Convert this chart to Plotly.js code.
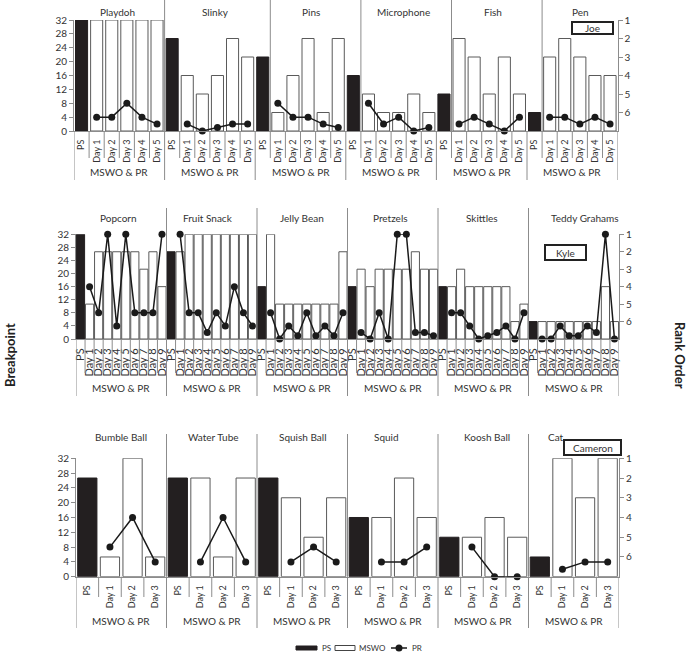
<!DOCTYPE html>
<html><head><meta charset="utf-8">
<script src="https://cdn.plot.ly/plotly-3.0.1.min.js"></script>
<style>html,body{margin:0;padding:0;background:#fff}#chart{width:693px;height:658px}</style>
</head><body><div id="chart"></div>
<script>
// ---------------- DATA ----------------
const groupLabel = "MSWO & PR";
const psLabel = "PS";
const days5 = ["Day 1","Day 2","Day 3","Day 4","Day 5"];
const days9 = ["Day 1","Day 2","Day 3","Day 4","Day 5","Day 6","Day 7","Day 8","Day 9"];
const days3 = ["Day 1","Day 2","Day 3"];
const seriesNames = ["PS","MSWO","PR"];

// Joe
const joeItems = ["Playdoh","Slinky","Pins","Microphone","Fish","Pen"];
const joePS   = [1,2,3,4,5,6];                       // rank (right axis)
const joeMSWO = [[1,1,1,1,1],[4,5,4,2,3],[6,4,2,6,2],[5,6,6,5,6],[2,3,5,3,5],[3,2,3,4,4]]; // rank
const joePR   = [[4,4,8,4,2],[2,0,1,2,2],[8,4,4,2,1],[8,2,4,0,1],[2,4,2,0,4],[4,4,2,4,2]]; // breakpoint

// Kyle
const kyleItems = ["Popcorn","Fruit Snack","Jelly Bean","Pretzels","Skittles","Teddy Grahams"];
const kylePS   = [1,2,4,4,4,6];
const kyleMSWO = [[5,2,2,2,2,2,3,2,4],[2,1,1,1,1,1,1,1,1],[1,5,5,5,5,5,5,5,2],
                  [3,4,3,3,3,3,2,3,3],[4,3,4,4,4,4,4,6,5],[6,6,6,6,6,6,6,4,6]];
const kylePR   = [[16,8,32,4,32,8,8,8,32],[32,8,8,2,8,4,16,8,4],[8,0,4,1,8,1,4,1,8],
                  [2,0,8,0,32,32,2,2,1],[8,8,4,0,1,2,4,0,8],[0,0,4,1,1,4,2,32,0]];

// Cameron
const camItems = ["Bumble Ball","Water Tube","Squish Ball","Squid","Koosh Ball","Cat"];
const camPS   = [2,2,2,4,5,6];
const camMSWO = [[6,1,6],[2,6,2],[3,5,3],[4,2,4],[5,4,5],[1,3,1]];
const camPR   = [[8,16,4],[4,16,4],[4,8,4],[4,4,8],[8,0,0],[2,4,4]];

const leftTicks = [0,4,8,12,16,20,24,28,32];
const rightTicks = [1,2,3,4,5,6];
const RANK_FLOOR = 7;

// ---------------- LAYOUT HELPERS ----------------
const W=693, H=658, L=72, R=74, PW=W-L-R;
const px2x = p => (p-L)/PW;
const py2y = p => 1 - p/H;
const FONT = "Lato, 'Open Sans', sans-serif";
const LINE = '#8c8c8c';
const TXT = '#333333';

const rowCfg = [
  {name:'Joe', items:joeItems, ps:joePS, mswo:joeMSWO, pr:joePR, days:days5,
   x0:74, x1:617.6, yTop:20, yBot:131, titleY:12, sepTop:0, innerBot:158, groupBot:180, groupY:172,
   tickFont:9, barW:0.8, sepB:[6,13,19,25,31], titleX:[117,215,311,403,493,580],
   box:{x0:572,x1:613,y0:22,y1:34}},
  {name:'Kyle', items:kyleItems, ps:kylePS, mswo:kyleMSWO, pr:kylePR, days:days9,
   x0:76, x1:619, yTop:234.3, yBot:339, titleY:218, sepTop:208, innerBot:373, groupBot:396, groupY:388,
   tickFont:11, barW:0.9, sepB:[10,20,30,40,50], titleX:[118,208,302,390,482,585],
   box:{x0:545,x1:586,y0:245,y1:260}},
  {name:'Cameron', items:camItems, ps:camPS, mswo:camMSWO, pr:camPR, days:days3,
   x0:76, x1:619, yTop:458.3, yBot:576.7, titleY:437, sepTop:434, innerBot:597, groupBot:628, groupY:621,
   tickFont:9, barW:0.85, sepB:[4,8,12,16,20], titleX:[121,213,303,386,487,556],
   box:{x0:564,x1:621,y0:440,y1:455}}
];

const traces=[], shapes=[], annotations=[];
const layout = {
  width:W, height:H, margin:{l:L,r:R,t:0,b:0},
  paper_bgcolor:'#fff', plot_bgcolor:'rgba(0,0,0,0)',
  font:{family:FONT, color:TXT, size:10},
  barmode:'overlay', showlegend:false,
  shapes, annotations
};

rowCfg.forEach((c,k)=>{
  const n=c.items.length, D=c.days.length, S=D+1, N=n*S;
  const xa = k===0 ? 'x' : 'x'+(k+1);
  const xKey = k===0 ? 'xaxis' : 'xaxis'+(k+1);
  const yRank = k===0 ? 'y' : 'y'+(2*k+1);
  const yRankKey = k===0 ? 'yaxis' : 'yaxis'+(2*k+1);
  const yBP = 'y'+(2*k+2);
  const yBPKey = 'yaxis'+(2*k+2);

  const psX=[],psY=[],mX=[],mY=[],prX=[],prY=[],tv=[],tt=[];
  c.items.forEach((it,i)=>{
    const s=i*S;
    psX.push(s); psY.push(c.ps[i]-RANK_FLOOR);
    tv.push(s); tt.push(psLabel);
    prX.push(s); prY.push(null);
    c.days.forEach((d,j)=>{
      mX.push(s+1+j); mY.push(c.mswo[i][j]-RANK_FLOOR);
      prX.push(s+1+j); prY.push(c.pr[i][j]);
      tv.push(s+1+j); tt.push(d);
    });
  });

  traces.push({type:'bar', name:seriesNames[0], x:psX, y:psY, base:RANK_FLOOR, width:c.barW,
    xaxis:xa, yaxis:yRank,
    marker:{color:'#231f20', line:{color:'#231f20', width:1}}, hoverinfo:'skip'});
  traces.push({type:'bar', name:seriesNames[1], x:mX, y:mY, base:RANK_FLOOR, width:c.barW,
    xaxis:xa, yaxis:yRank,
    marker:{color:'#ffffff', line:{color:'#5a5a5a', width:1}}, hoverinfo:'skip'});
  traces.push({type:'scatter', mode:'lines+markers', name:seriesNames[2], x:prX, y:prY,
    xaxis:xa, yaxis:yBP, connectgaps:false, cliponaxis:false,
    line:{color:'#1a1a1a', width:1.5}, marker:{color:'#1a1a1a', size:7}, hoverinfo:'skip'});

  layout[xKey] = {domain:[px2x(c.x0), Math.min(1,px2x(c.x1))], range:[-0.5, N-0.5], anchor:yRank,
    tickmode:'array', tickvals:tv, ticktext:tt, tickangle:-90, ticks:'', ticklabelstandoff:4,
    tickfont:{size:c.tickFont, color:TXT}, showline:true, linecolor:LINE, linewidth:1,
    showgrid:false, zeroline:false, fixedrange:true};
  layout[yRankKey] = {domain:[py2y(c.yBot), py2y(c.yTop)], range:[RANK_FLOOR, 1], side:'right', anchor:xa,
    tickmode:'array', tickvals:rightTicks, ticks:'outside', ticklen:4, tickcolor:LINE,
    showline:true, linecolor:LINE, showgrid:false, zeroline:false,
    tickfont:{size:10, color:TXT}, fixedrange:true};
  layout[yBPKey] = {overlaying:yRank, side:'left', anchor:xa, range:[0,32],
    tickmode:'array', tickvals:leftTicks, ticks:'outside', ticklen:4, tickcolor:LINE,
    showline:true, linecolor:LINE, showgrid:false, zeroline:false,
    tickfont:{size:10, color:TXT}, fixedrange:true};

  const ln = (x, y0, y1) => shapes.push({type:'line', xref:xa, yref:'paper', x0:x, x1:x,
    y0:py2y(y0), y1:py2y(y1), line:{color:LINE, width:1}, layer:'above'});
  c.sepB.forEach(b => ln(b-0.5, c.yBot, c.sepTop));
  for(let i=0;i<=n;i++) ln(i*S-0.5, c.yBot, c.groupBot);
  for(let i=0;i<n;i++) for(let j=1;j<S;j++) ln(i*S+j-0.5, c.yBot, c.innerBot);

  c.items.forEach((it,i)=>{
    annotations.push({text:it, xref:'paper', yref:'paper', x:px2x(c.titleX[i]), y:py2y(c.titleY),
      showarrow:false, xanchor:'center', yanchor:'middle', font:{size:10, color:TXT}});
    annotations.push({text:groupLabel, xref:xa, yref:'paper', x:i*S+(S-1)/2, y:py2y(c.groupY),
      showarrow:false, xanchor:'center', yanchor:'middle', font:{size:10, color:TXT}});
  });

  shapes.push({type:'rect', xref:'paper', yref:'paper', x0:px2x(c.box.x0), x1:px2x(c.box.x1),
    y0:py2y(c.box.y1), y1:py2y(c.box.y0), line:{color:'#222', width:2}, fillcolor:'#fff', layer:'above'});
  annotations.push({text:c.name, xref:'paper', yref:'paper', x:px2x((c.box.x0+c.box.x1)/2),
    y:py2y((c.box.y0+c.box.y1)/2), showarrow:false, xanchor:'center', yanchor:'middle',
    font:{size:10, color:TXT}});
});

annotations.push({text:'<b>Breakpoint</b>', xref:'paper', yref:'paper', x:px2x(10), y:py2y(355),
  textangle:-90, showarrow:false, xanchor:'center', yanchor:'middle', font:{size:13, color:'#222'}});
annotations.push({text:'<b>Rank Order</b>', xref:'paper', yref:'paper', x:px2x(680), y:py2y(355),
  textangle:90, showarrow:false, xanchor:'center', yanchor:'middle', font:{size:13, color:'#222'}});

// ---- custom legend (Excel style) ----
const LY = 648;
shapes.push({type:'rect', xref:'paper', yref:'paper', x0:px2x(296), x1:px2x(317), y0:py2y(650), y1:py2y(646),
  fillcolor:'#231f20', line:{color:'#231f20', width:1}});
shapes.push({type:'rect', xref:'paper', yref:'paper', x0:px2x(335), x1:px2x(355), y0:py2y(650.5), y1:py2y(645.5),
  fillcolor:'#fff', line:{color:'#444', width:1}});
shapes.push({type:'line', xref:'paper', yref:'paper', x0:px2x(391), x1:px2x(407), y0:py2y(LY), y1:py2y(LY),
  line:{color:'#1a1a1a', width:1.5}});
shapes.push({type:'circle', xref:'paper', yref:'paper', x0:px2x(395.5), x1:px2x(402.5), y0:py2y(651.5), y1:py2y(644.5),
  fillcolor:'#1a1a1a', line:{color:'#1a1a1a', width:0}});
[[seriesNames[0],320],[seriesNames[1],357],[seriesNames[2],410]].forEach(([t,x])=>{
  annotations.push({text:t, xref:'paper', yref:'paper', x:px2x(x), y:py2y(LY), showarrow:false,
    xanchor:'left', yanchor:'middle', font:{size:8, color:TXT}});
});

Plotly.newPlot('chart', traces, layout, {staticPlot:true, displayModeBar:false});
</script>
</body></html>
